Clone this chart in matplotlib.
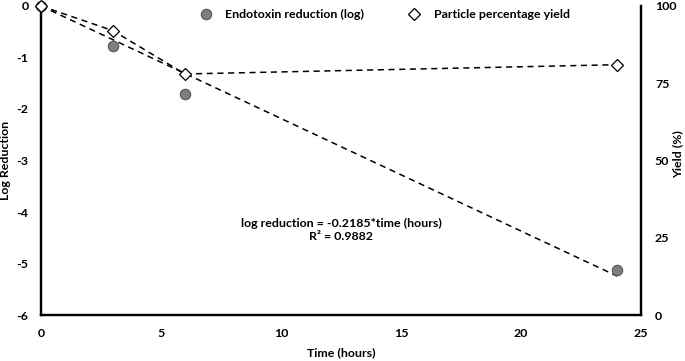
import numpy as np
import matplotlib.pyplot as plt

plt.rcParams['font.family'] = ['Lato', 'DejaVu Sans']
plt.rcParams['font.weight'] = 'bold'
plt.rcParams['axes.unicode_minus'] = False

# data
time_endo = [0, 3, 6, 24]
log_reduction = [0, -0.78, -1.71, -5.13]
time_yield = [0, 3, 6, 24]
yield_pct = [100, 92, 78, 81]
slope = -0.2185
fit_time = [0, 24]

fs = 8.9
fig = plt.figure(figsize=(6.85, 3.61), dpi=100)
ax = fig.add_axes([0.0599, 0.1274, 0.8759, 0.856])
ax2 = ax.twinx()

# fitted trend line and points on the left axis
ax.plot(fit_time, [slope * t for t in fit_time], ls=(0, (4, 3)), color='black', lw=1.1, zorder=2)
endo, = ax.plot(time_endo, log_reduction, 'o', ms=7.5, mfc='#808080', mec='#555555', mew=0.8,
                ls='none', zorder=3, clip_on=False)

# yield on the right axis
ax2.plot(time_yield, yield_pct, ls=(0, (4, 3)), color='black', lw=1.1, zorder=2)
yld, = ax2.plot(time_yield, yield_pct, 'D', ms=6.5, mfc='white', mec='black', mew=0.9,
                ls='none', zorder=4, clip_on=False)

ax.set_xlim(0, 25)
ax.set_ylim(-6, 0)
ax2.set_ylim(0, 100)
ax.set_xticks([0, 5, 10, 15, 20, 25])
ax.set_yticks(range(-6, 1))
ax2.set_yticks([0, 25, 50, 75, 100])

for a in (ax, ax2):
    a.spines['top'].set_visible(False)
    for s in ('left', 'right', 'bottom'):
        a.spines[s].set_linewidth(1.6)
    a.tick_params(length=0, labelsize=fs)
ax.tick_params(axis='x', pad=9)
ax.tick_params(axis='y', pad=9)
ax2.tick_params(axis='y', pad=10)

ax.set_xlabel('Time (hours)', fontsize=fs, fontweight='bold', labelpad=6)
ax.set_ylabel('Log Reduction', fontsize=fs, fontweight='bold', labelpad=4)
ax2.set_ylabel('Yield (%)', fontsize=fs, fontweight='bold')
ax2.yaxis.set_label_coords(1.052, 0.52)

ax.text(12.5, -4.35, 'log reduction = -0.2185*time (hours)\nR² = 0.9882',
        ha='center', va='center', fontsize=fs, fontweight='bold', linespacing=1.3)

leg_kw = dict(loc='upper left', frameon=False, borderpad=0, borderaxespad=0,
              handlelength=1, handletextpad=1.1, prop={'weight': 'bold', 'size': fs})
leg1 = ax2.legend([endo], ['Endotoxin reduction (log)'], bbox_to_anchor=(0.264, 0.99), **leg_kw)
ax2.add_artist(leg1)
ax2.legend([yld], ['Particle percentage yield'], bbox_to_anchor=(0.611, 0.99), **leg_kw)

fig.savefig('out.png', dpi=100)
